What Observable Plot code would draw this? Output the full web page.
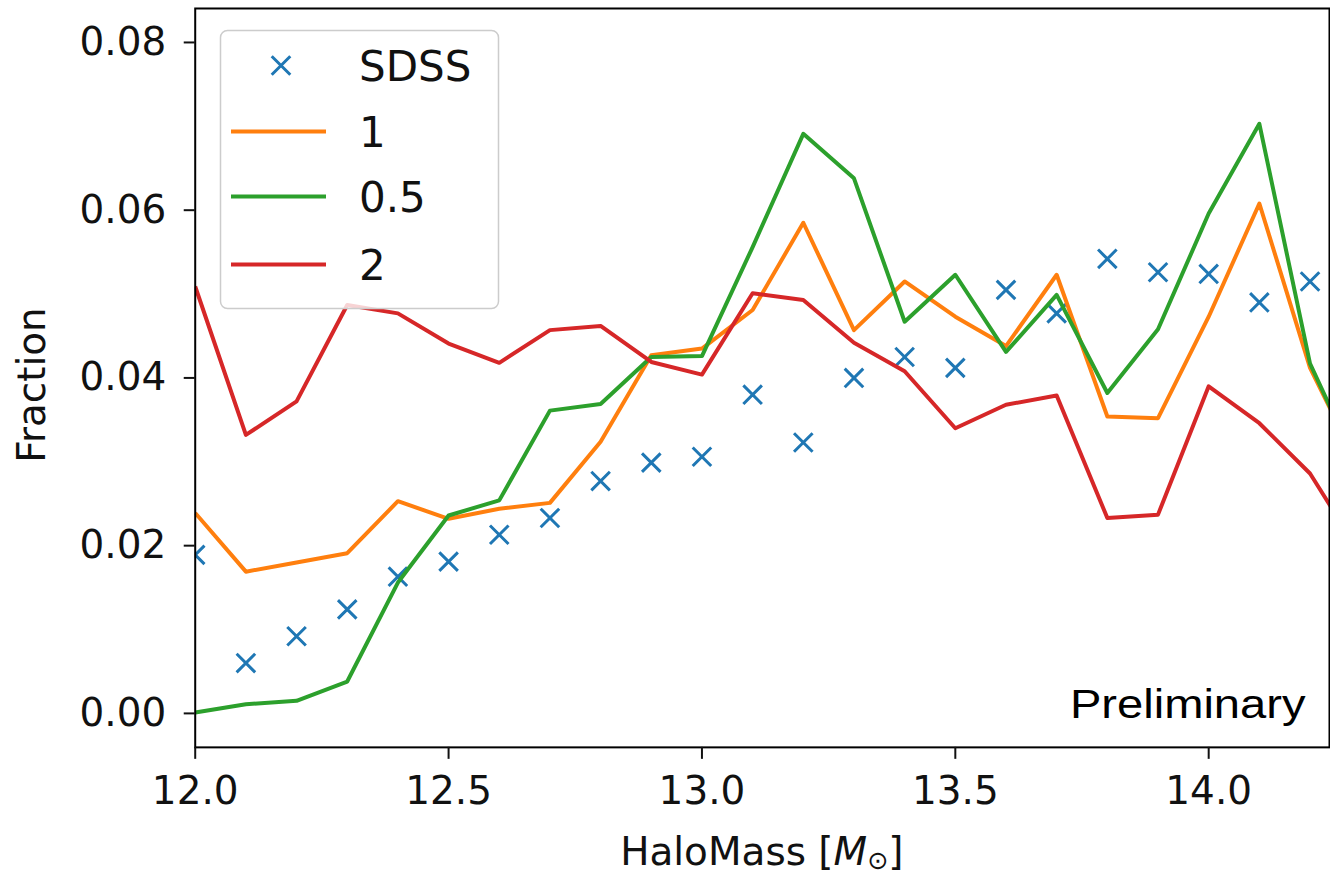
<!DOCTYPE html>
<html><head><meta charset="utf-8">
<script src="https://cdn.jsdelivr.net/npm/d3@7"></script>
<script src="https://cdn.jsdelivr.net/npm/@observablehq/plot@0.6"></script>
<style>
html,body{margin:0;padding:0;background:#fff;}
#wrap{position:relative;width:1330px;height:877px;overflow:hidden;background:#fff;}
#wrap svg{display:block;}
#legend{position:absolute;left:0;top:0;pointer-events:none;}
</style></head><body><div id="wrap"></div>
<script>
// ---- data ----
const haloMass = [12.0,12.1,12.2,12.3,12.4,12.5,12.6,12.7,12.8,12.9,13.0,13.1,13.2,13.3,13.4,13.5,13.6,13.7,13.8,13.9,14.0,14.1,14.2,14.3];
const sdss = [0.0189,0.0060,0.0092,0.0124,0.0163,0.0181,0.0213,0.0233,0.0277,0.0299,0.0306,0.0380,0.0323,0.0400,0.0425,0.0412,0.0505,0.0477,0.0542,0.0526,0.0524,0.0490,0.0515];
const model1 = [0.0239,0.0169,0.0180,0.0191,0.0253,0.0232,0.0244,0.0251,0.0324,0.0427,0.0435,0.0481,0.0585,0.0457,0.0515,0.0473,0.0438,0.0523,0.0354,0.0352,0.0473,0.0608,0.0412,0.0290];
const model05 = [0.0001,0.0011,0.0015,0.0038,0.0156,0.0236,0.0254,0.0361,0.0369,0.0425,0.0426,0.0556,0.0691,0.0638,0.0467,0.0523,0.0431,0.0499,0.0382,0.0458,0.0596,0.0703,0.0417,0.0287];
const model2 = [0.0509,0.0332,0.0372,0.0487,0.0477,0.0441,0.0418,0.0457,0.0462,0.0419,0.0404,0.0501,0.0493,0.0442,0.0408,0.0340,0.0368,0.0379,0.0233,0.0237,0.0390,0.0346,0.0286,0.0190];
const seriesNames = ["1","0.5","2"];
const seriesColors = ["#ff7f0e","#2ca02c","#d62728"];
const sdssLabel = "SDSS";
const sdssColor = "#1f77b4";
const xTicks = [12.0,12.5,13.0,13.5,14.0];
const yTicks = [0.00,0.02,0.04,0.06,0.08];
const xLabel = "HaloMass [";
const yLabel = "Fraction";
const note = "Preliminary";

// ---- tables ----
const sdssRows = sdss.map((v,i)=>({x:haloMass[i], y:v}));
const seriesValues = [model1, model05, model2];
const lineRows = seriesNames.flatMap((s,k)=>seriesValues[k].map((v,i)=>({x:haloMass[i], y:v, series:s})));

const W = 1332, H = 877, mL = 195, mR = 1, mT = 8, mB = 129;
const FS = 39;

const plot = Plot.plot({
  width: W, height: H,
  marginLeft: mL, marginRight: mR, marginTop: mT, marginBottom: mB,
  style: {fontFamily: "'DejaVu Sans', sans-serif", fontSize: FS + "px", color: "#111", background: "#fff"},
  x: {domain: [12, 14.2384]},
  y: {domain: [-0.00405, 0.08405]},
  color: {domain: seriesNames, range: seriesColors},
  marks: [
    Plot.dot(sdssRows, {x: "x", y: "y", symbol: "times", r: 8.5, stroke: sdssColor, strokeWidth: 3, clip: true}),
    Plot.line(lineRows, {x: "x", y: "y", z: "series", stroke: "series", strokeWidth: 4, clip: true, strokeLinejoin: "round", strokeLinecap: "butt"}),
    Plot.frame({stroke: "#000", strokeWidth: 2}),
    Plot.axisX({ticks: xTicks, tickFormat: d3.format(".1f"), tickSize: 12, tickPadding: 17, strokeWidth: 2, fontSize: FS, label: null}),
    Plot.axisY({ticks: yTicks, tickFormat: d3.format(".2f"), tickSize: 11, tickPadding: 18, strokeWidth: 2, fontSize: FS, label: null}),
    Plot.text([yLabel], {frameAnchor: "left", text: d => d, rotate: -90, dx: -162.5, dy: 7, fontSize: FS, textAnchor: "middle", lineAnchor: "middle"}),
    Plot.text([note], {frameAnchor: "bottom-right", text: d => d, dx: -24, dy: -42, fontSize: 40, fontFamily: "'Liberation Sans', Arial, sans-serif", textAnchor: "end", lineAnchor: "middle", fill: "#000"})
  ]
});
document.getElementById("wrap").appendChild(plot);

// adjust "Preliminary" width to match
d3.select(plot).selectAll("text").filter(function(){return this.textContent === note;})
  .attr("textLength", 236).attr("lengthAdjust", "spacingAndGlyphs");

// x axis label with mathtext-like M_sun
const cx = (mL + (W - mR)) / 2;
const lab = d3.select(plot).append("text")
  .attr("x", cx).attr("y", 866).attr("text-anchor", "middle")
  .attr("font-family", "'DejaVu Sans', sans-serif").attr("font-size", FS).attr("fill", "#111");
lab.append("tspan").text(xLabel);
lab.append("tspan").attr("font-style", "italic").text("M");
lab.append("tspan").attr("font-size", FS*0.65).attr("dy", 4).text("\u2299");
lab.append("tspan").attr("dy", -4).text("]");

// legend overlay
const leg = d3.select("#wrap").append("svg").attr("id","legend").attr("width",1330).attr("height",877)
  .style("font-family","'DejaVu Sans', sans-serif");
leg.append("rect").attr("x",220.5).attr("y",30.5).attr("width",278).attr("height",278).attr("rx",7)
  .attr("fill","rgba(255,255,255,0.8)").attr("stroke","#cccccc").attr("stroke-width",1.5);
const LFS = 42;
const entries = [{label: sdssLabel, color: sdssColor, kind: "marker"}]
  .concat(seriesNames.map((s,i)=>({label: s, color: seriesColors[i], kind: "line"})));
const baselines = [81, 147, 212, 280];
entries.forEach((e,i)=>{
  const by = baselines[i];
  const my = by - 15.5;
  if (e.kind === "marker") {
    const sym = d3.symbol(d3.symbolTimes, Math.PI*8.5*8.5)();
    leg.append("path").attr("d", sym).attr("transform", `translate(281,${my})`)
      .attr("fill","none").attr("stroke", e.color).attr("stroke-width",3);
  } else {
    leg.append("line").attr("x1",231).attr("x2",326).attr("y1",my).attr("y2",my)
      .attr("stroke", e.color).attr("stroke-width",4);
  }
  leg.append("text").attr("x",359).attr("y",by).attr("font-size",LFS).attr("fill","#111").text(e.label);
});
</script></body></html>
